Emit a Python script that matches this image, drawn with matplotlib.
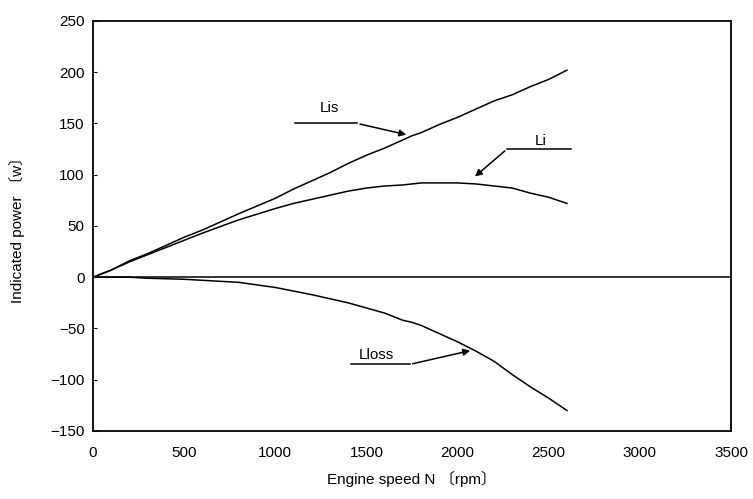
import numpy as np
import matplotlib
matplotlib.use("Agg")
import matplotlib.pyplot as plt

plt.rcParams['font.family'] = ['Liberation Sans', 'Noto Sans CJK JP']

# engine speed [rpm]
speed = [0, 100, 200, 300, 400, 500, 600, 800, 1000, 1100, 1200, 1300, 1400,
         1500, 1600, 1700, 1750, 1800, 1900, 2000, 2100, 2200, 2300, 2400, 2500, 2600]
# isentropic power Lis [w]
lis = [0, 7, 16, 23, 31, 39, 46, 62, 77, 86, 94, 102, 111,
       119, 126, 134, 138, 141, 149, 156, 164, 172, 178, 186, 193, 202]
# indicated power Li [w]
li = [0, 7, 15, 22, 29, 36, 43, 56, 67, 72, 76, 80, 84,
      87, 89, 90, 91, 92, 92, 92, 91, 89, 87, 82, 78, 72]
# loss Lloss [w]
lloss = [0, 0, 0, -1, -1.5, -2, -3, -5, -10, -13.5, -17, -21, -25,
         -30, -35, -42, -44, -47, -55, -63, -72, -82, -95, -107, -118, -130]

fig = plt.figure(figsize=(7.53, 4.99), dpi=100)
ax = fig.add_axes([0.1235, 0.1363, 0.8473, 0.8217])

ax.plot(speed, lis, color='black', lw=1.1)
ax.plot(speed, li, color='black', lw=1.1)
ax.plot(speed, lloss, color='black', lw=1.1)
ax.axhline(0, color='black', lw=1.1)

ax.set_xlim(0, 3500)
ax.set_ylim(-150, 250)
ax.set_xticks(np.arange(0, 3501, 500))
ax.set_yticks(np.arange(-150, 251, 50))
ax.tick_params(axis='y', direction='in', length=3, labelsize=11, pad=6)
ax.tick_params(axis='x', length=0, labelsize=11, pad=11)
ax.set_yticklabels([str(v).replace('-', '\u2212') for v in range(-150, 251, 50)])
for s in ax.spines.values():
    s.set_linewidth(1.3)

ax.set_xlabel('Engine speed N 〔rpm〕', fontsize=11, labelpad=8)
ax.set_ylabel('Indicated power 〔w〕', fontsize=11, labelpad=18)

# leader lines with arrows
arrow = dict(arrowstyle='-|>', color='black', lw=1.1, mutation_scale=10)
ax.plot([1108, 1450], [150, 150], color='black', lw=1.1)
ax.annotate('', xy=(1733, 138.5), xytext=(1450, 150), arrowprops=arrow)
ax.text(1295, 158, 'Lis', fontsize=11, ha='center', va='bottom')

ax.plot([2271, 2622], [125, 125], color='black', lw=1.1)
ax.annotate('', xy=(2084, 96.5), xytext=(2271, 125), arrowprops=arrow)
ax.text(2458, 126, 'Li', fontsize=11, ha='center', va='bottom')

ax.plot([1415, 1739], [-85, -85], color='black', lw=1.1)
ax.annotate('', xy=(2084, -71), xytext=(1739, -85), arrowprops=arrow)
ax.text(1553, -83, 'Lloss', fontsize=11, ha='center', va='bottom')

fig.savefig('out.png', dpi=100)
